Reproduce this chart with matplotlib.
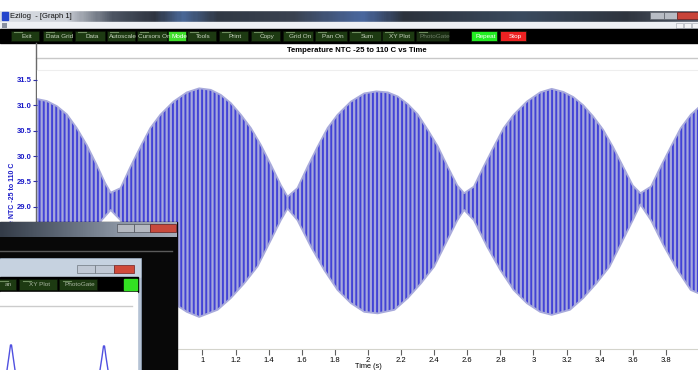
import matplotlib
matplotlib.use("Agg")
import matplotlib.pyplot as plt
import numpy as np
from matplotlib.patches import Rectangle
from matplotlib.colors import LinearSegmentedColormap

t_up = [0.0, 0.06, 0.12, 0.18, 0.24, 0.30, 0.36, 0.41, 0.445,
        0.505, 0.565, 0.625, 0.685, 0.745, 0.825, 0.905, 0.98,
        1.05, 1.111, 1.171, 1.232, 1.292, 1.352, 1.413, 1.473, 1.514,
        1.574, 1.635, 1.695, 1.756, 1.816, 1.897, 1.977, 2.05,
        2.12, 2.18, 2.24, 2.30, 2.36, 2.42, 2.48, 2.54, 2.581,
        2.64, 2.70, 2.76, 2.82, 2.88, 2.96, 3.04, 3.11,
        3.18, 3.24, 3.30, 3.36, 3.42, 3.48, 3.54, 3.60, 3.646,
        3.71, 3.77, 3.83, 3.89, 3.95, 4.0]
upper = [31.12, 31.08, 30.98, 30.82, 30.55, 30.22, 29.83, 29.48, 29.28,
         29.37, 29.79, 30.18, 30.55, 30.81, 31.07, 31.25, 31.33,
         31.30, 31.20, 31.04, 30.81, 30.55, 30.22, 29.83, 29.43, 29.20,
         29.37, 29.79, 30.18, 30.55, 30.81, 31.07, 31.23, 31.27,
         31.25, 31.17, 31.02, 30.82, 30.52, 30.20, 29.80, 29.42, 29.27,
         29.40, 29.80, 30.18, 30.55, 30.81, 31.07, 31.25, 31.32,
         31.26, 31.16, 31.00, 30.78, 30.52, 30.18, 29.80, 29.42, 29.27,
         29.40, 29.80, 30.18, 30.55, 30.81, 30.96]
t_low = [0.0, 0.08, 0.16, 0.24, 0.32, 0.39, 0.445,
         0.505, 0.585, 0.665, 0.745, 0.825, 0.905, 0.98,
         1.091, 1.171, 1.252, 1.332, 1.413, 1.473, 1.514,
         1.574, 1.655, 1.736, 1.816, 1.897, 1.977, 2.058,
         2.16, 2.24, 2.32, 2.40, 2.48, 2.54, 2.581,
         2.64, 2.72, 2.80, 2.88, 2.96, 3.04, 3.11,
         3.22, 3.30, 3.38, 3.46, 3.54, 3.60, 3.646,
         3.71, 3.79, 3.87, 3.95, 4.0]
lower = [26.98, 27.21, 27.50, 27.83, 28.35, 28.74, 28.94,
         28.74, 28.22, 27.76, 27.37, 27.11, 26.94, 26.84,
         26.98, 27.21, 27.50, 27.83, 28.35, 28.74, 28.97,
         28.74, 28.22, 27.76, 27.37, 27.11, 26.94, 26.91,
         26.98, 27.21, 27.50, 27.83, 28.35, 28.74, 28.94,
         28.74, 28.22, 27.76, 27.37, 27.11, 26.94, 26.88,
         26.98, 27.21, 27.50, 27.83, 28.35, 28.74, 29.05,
         28.74, 28.22, 27.76, 27.37, 27.30]

y_ticks = [26.5, 27.0, 27.5, 28.0, 28.5, 29.0, 29.5, 30.0, 30.5, 31.0, 31.5]
x_ticks = [0, 0.2, 0.4, 0.6, 0.8, 1, 1.2, 1.4, 1.6, 1.8, 2, 2.2, 2.4, 2.6,
           2.8, 3, 3.2, 3.4, 3.6, 3.8]
x_labels = ["0", "0.2", "0.4", "0.6", "0.8", "1", "1.2", "1.4", "1.6", "1.8",
            "2", "2.2", "2.4", "2.6", "2.8", "3", "3.2", "3.4", "3.6", "3.8"]

# toolbar buttons of the main window (label, left px, right px, colour)
buttons = [("Exit", 11, 39, "#1d3a12"), ("Data Grid", 43, 72, "#1d3a12"),
           ("Data", 75, 105, "#1d3a12"), ("Autoscale", 107, 135, "#1d3a12"),
           ("Cursors On", 137, 167, "#1d3a12"), ("Mode", 168, 186, "#3ee02a"),
           ("Tools", 187, 216, "#1d3a12"), ("Print", 219, 248, "#1d3a12"),
           ("Copy", 251, 280, "#1d3a12"), ("Grid On", 283, 313, "#1d3a12"),
           ("Pan On", 315, 347, "#1d3a12"), ("Sum", 349, 381, "#1d3a12"),
           ("XY Plot", 382, 414, "#1d3a12"), ("PhotoGate", 416, 449, "#1a2e12"),
           ("Repeat", 471, 497, "#22ee22"), ("Stop", 500, 526, "#ee2222")]

# small graph visible in the window in front (its own px units)
inset_t = [7, 9, 10.5, 11.5, 13, 15, 100, 102, 103.5, 104.5, 106, 108]
inset_v = [370, 356, 345, 345, 356, 370, 370, 357, 346, 346, 357, 370]

W, H = 698, 370
plt.rcParams['font.family'] = ['Liberation Sans', 'DejaVu Sans']
plt.rcParams['hatch.linewidth'] = 1.4
plt.rcParams['hatch.color'] = '#4242d6'

fig = plt.figure(figsize=(W / 100, H / 100), dpi=100)

# ---------- window chrome (behind the graph) ----------
bg = fig.add_axes([0, 0, 1, 1], zorder=0)
bar_cmap = LinearSegmentedColormap.from_list("bar", [
    (0.0, "#dadee4"), (0.09, "#cdd1d8"), (0.16, "#4c5462"), (0.22, "#2e3440"),
    (0.26, "#4a6898"), (0.31, "#303844"), (0.42, "#3a4250"), (0.52, "#4a68a0"),
    (0.58, "#2c323c"), (0.75, "#3a4a5e"), (0.9, "#2e343e"), (1.0, "#505866")])
bg.imshow(np.linspace(0, 1, 300)[None, :], cmap=bar_cmap, aspect='auto',
          extent=(0, W, 22, 10))
bg.add_patch(Rectangle((0, 0), W, 10, color="white"))
bg.add_patch(Rectangle((2, 12), 6, 8, color="#2244cc"))
bg.text(10, 16, "Ezilog  - [Graph 1]", fontsize=5.5, va='center', color="#101010")
bg.add_patch(Rectangle((650, 12), 14, 7, fc="#b8bcc4", ec="#60646c", lw=0.5))
bg.add_patch(Rectangle((664, 12), 13, 7, fc="#b8bcc4", ec="#60646c", lw=0.5))
bg.add_patch(Rectangle((677, 12), 21, 7, fc="#c8443a", ec="#702020", lw=0.5))
bg.add_patch(Rectangle((0, 22), W, 7, color="#eef0f4"))
bg.add_patch(Rectangle((2, 23), 5, 5, fc="#8890a0", ec="none"))
for x0 in (676, 684, 692):
    bg.add_patch(Rectangle((x0, 23), 7, 5, fc="#f4f4f6", ec="#a0a4ac", lw=0.4))
bg.add_patch(Rectangle((0, 29), W, 14, color="black"))
for label, x0, x1, col in buttons:
    bg.add_patch(Rectangle((x0, 31), x1 - x0, 10, fc=col, ec="#0a1406", lw=0.5))
    if col in ("#1d3a12", "#1a2e12"):
        bg.plot([x0 + 3, x0 + 11], [32.3, 32.3], color="#6e8e5e", lw=0.8)
        tc = "#c8d4c0" if col == "#1d3a12" else "#6e7e68"
    else:
        tc = "white"
    bg.text((x0 + x1) / 2 + 2, 36.5, label, fontsize=4.6, color=tc,
            ha='center', va='center')
bg.text(357, 50.5, "Temperature NTC -25 to 110 C vs Time", fontsize=5.6,
        fontweight='bold', ha='center', va='center')
bg.plot([36, W], [58, 58], color="#c8c8c8", lw=1)
bg.plot([36, 36], [43, H], color="#6a6a6a", lw=1)
bg.text(12.5, 212, "Temperature NTC -25 to 110 C", rotation=90, fontsize=5,
        fontweight='bold', color="#1a1ac8", ha='center', va='center')
bg.text(368, 366, "Time (s)", fontsize=5.3, ha='center', va='center')
bg.set_xlim(0, W)
bg.set_ylim(H, 0)
bg.axis('off')

# ---------- the graph ----------
ax = fig.add_axes([37 / W, 1 - 349 / H, 662 / W, 279 / H], zorder=1)
ax.fill(np.concatenate([t_up, t_low[::-1]]), np.concatenate([upper, lower[::-1]]),
        facecolor="#a6a8dc", edgecolor="#4242d6", hatch="||||", linewidth=0)
ax.plot(t_up, upper, color="#a8aadc", lw=1.3)
ax.plot(t_low, lower, color="#a8aadc", lw=1.3)
ax.set_xlim(0, 4.0)
ax.set_ylim(26.21, 31.69)
ax.set_yticks(y_ticks)
ax.set_yticklabels(["%.1f" % v for v in y_ticks])
ax.set_xticks(x_ticks)
ax.set_xticklabels(x_labels)
ax.tick_params(axis='y', direction='out', length=3, color="#3030a0",
               labelcolor="#1a1ac8", labelsize=5.5, pad=1)
ax.tick_params(axis='x', direction='out', length=4, color="#606060",
               labelsize=5.5, pad=1.5)
for lab in ax.get_yticklabels():
    lab.set_fontweight('bold')
for s in ('left', 'right'):
    ax.spines[s].set_visible(False)
ax.spines['bottom'].set_color("#d4d4cc")
ax.spines['top'].set_color("#eeeeee")

# ---------- window lying in front, bottom left ----------
ov = fig.add_axes([0, 0, 1, 1], zorder=5)
ov.patch.set_alpha(0)
ov.add_patch(Rectangle((0, 222), 177, H - 222, color="#080808"))
tb_cmap = LinearSegmentedColormap.from_list("tb", ["#343c48", "#5c6674", "#8a94a2", "#a4acb8"])
ov.imshow(np.linspace(0, 1, 100)[None, :], cmap=tb_cmap, aspect='auto',
          extent=(0, 177, 237, 222), zorder=1)
ov.add_patch(Rectangle((117, 224), 17, 8, fc="#b4b8c0", ec="#50545c", lw=0.5, zorder=2))
ov.add_patch(Rectangle((134, 224), 16, 8, fc="#b4b8c0", ec="#50545c", lw=0.5, zorder=2))
ov.add_patch(Rectangle((150, 224), 26, 8, fc="#c84a3c", ec="#602020", lw=0.5, zorder=2))
ov.plot([0, 172], [251, 251], color="#5a5a5a", lw=1, zorder=2)
ov.add_patch(Rectangle((0, 258), 141, H - 258, fc="#b4c2d4", ec="#8898ac", lw=0.6, zorder=2))
ov.add_patch(Rectangle((0, 259), 140, 18, color="#c6d2e0", zorder=2))
ov.add_patch(Rectangle((77, 265), 18, 8, fc="#c0c8d4", ec="#707880", lw=0.5, zorder=3))
ov.add_patch(Rectangle((95, 265), 19, 8, fc="#c0c8d4", ec="#707880", lw=0.5, zorder=3))
ov.add_patch(Rectangle((114, 265), 20, 8, fc="#d04a3a", ec="#702020", lw=0.5, zorder=3))
ov.add_patch(Rectangle((0, 277), 138, 15, color="black", zorder=3))
for label, x0, x1 in (("an", -4, 16), ("XY Plot", 19, 57), ("PhotoGate", 59, 97)):
    ov.add_patch(Rectangle((x0, 279), x1 - x0, 11, fc="#1d3a12", ec="#0a1406", lw=0.5, zorder=4))
    ov.plot([x0 + 4, x0 + 12], [280.5, 280.5], color="#6e8e5e", lw=0.8, zorder=5)
    ov.text((x0 + x1) / 2 + 2, 285, label, fontsize=4.6, color="#a8b4a0",
            ha='center', va='center', zorder=5)
ov.add_patch(Rectangle((124, 279), 13, 11, color="#33e022", zorder=4))
ov.add_patch(Rectangle((0, 292), 137, H - 292, color="white", zorder=3))
ov.plot([0, 132], [306, 306], color="#cccccc", lw=1, zorder=4)
ov.set_xlim(0, W)
ov.set_ylim(H, 0)
ov.axis('off')

ins = fig.add_axes([0, 0, 137 / W, 78 / H], zorder=6)
ins.patch.set_alpha(0)
ins.plot(inset_t[:6], inset_v[:6], color="#5050e0", lw=1)
ins.plot(inset_t[6:], inset_v[6:], color="#5050e0", lw=1)
ins.set_xlim(0, 137)
ins.set_ylim(370, 292)
ins.axis('off')

fig.savefig("out.png", dpi=100)
